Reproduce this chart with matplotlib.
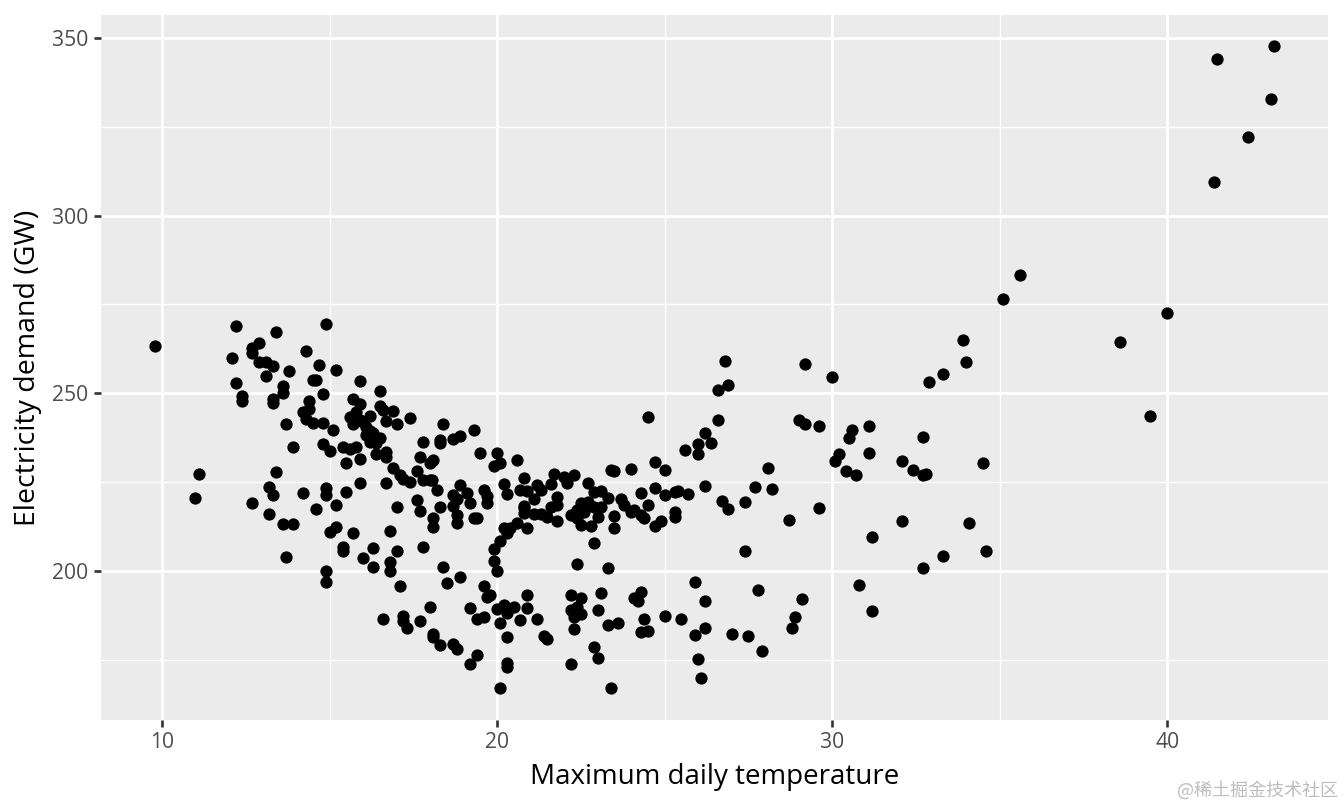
import matplotlib
matplotlib.use('Agg')
import matplotlib.pyplot as plt

# values, same order in both lists
temperature = [
    9.8, 12.2, 13.4, 14.9, 12.9, 12.7, 12.7, 12.1, 12.9, 13.1, 13.3, 13.1, 13.8, 14.3, 14.7, 15.2,
    14.5, 14.6, 12.2, 13.6, 13.6, 12.4, 12.4, 13.3, 13.3, 14.8, 14.4, 14.4, 14.2, 14.3, 14.5, 14.8,
    15.1, 13.7, 13.9, 14.8, 15.0, 15.4, 15.6, 15.8, 15.5, 15.9, 15.9, 16.5, 15.7, 15.9, 16.5, 16.6,
    16.9, 17.4, 15.6, 15.8, 15.8, 15.7, 16.0, 16.2, 15.9, 16.1, 16.2, 16.7, 17.0, 16.1, 16.3, 16.5,
    16.2, 16.4, 16.7, 16.4, 16.7, 17.8, 17.7, 18.0, 16.9, 17.1, 17.2, 17.4, 16.7, 17.6, 17.8, 18.0,
    15.9, 15.5, 14.9, 14.9, 14.2, 13.4, 13.2, 13.3, 11.1, 11.0, 17.6,
    12.7, 13.2, 13.6, 13.9, 13.7, 15.2, 14.6, 15.0, 15.2, 15.7, 15.4, 15.4, 14.9, 14.9, 16.3, 16.0,
    16.3, 16.8, 16.8, 17.0, 16.8, 17.0, 17.7, 18.3, 18.2, 17.8, 18.1, 18.1, 18.7, 18.9, 19.1, 18.8,
    18.7, 19.2, 18.8, 18.8, 19.3, 19.4, 19.6, 19.7, 19.7, 20.2, 20.3, 20.7, 20.8, 20.8,
    18.4, 18.9, 18.5, 17.1, 18.0, 17.2, 17.2, 17.7, 16.6, 17.3, 18.1, 18.1, 18.3, 18.7, 18.8, 19.2,
    19.4, 19.6, 19.6, 19.7, 19.8, 20.0, 20.2, 20.3, 20.5, 20.1, 20.7, 20.9, 20.9, 20.3, 19.4, 19.2,
    20.3, 20.3, 20.1, 19.9, 19.9, 20.0, 20.1, 20.2, 20.3, 20.6, 20.4, 20.9,
    18.4, 18.3, 18.3, 18.7, 18.9, 19.3, 18.1, 19.5, 20.0, 19.9, 20.1, 20.6, 18.05,
    20.8, 20.9, 21.2, 21.3, 21.1, 20.8, 21.1, 21.3, 21.5, 21.6, 21.8, 21.8, 21.8, 21.6, 21.7, 22.0,
    22.1, 22.3, 22.7, 22.9, 23.1, 23.3, 22.2, 22.4, 22.5, 22.7, 22.6, 22.4, 22.5, 22.8, 23.0, 23.1,
    22.9, 23.5, 23.5, 22.9, 23.7, 23.8, 24.0, 24.1, 24.3, 24.4, 24.3, 24.5, 24.7, 25.0, 25.3, 25.4,
    25.7, 25.3, 25.3, 24.9, 24.7, 26.2, 26.7, 26.9, 24.5, 23.4, 23.5, 24.0, 24.7, 25.0, 25.6, 26.0,
    26.0, 26.2, 26.4, 26.6,
    22.4, 23.3, 27.4, 25.9, 27.8, 26.2, 29.1, 28.9, 28.8, 21.2, 21.4, 21.5, 22.2, 22.5, 23.1, 22.2,
    22.4, 22.5, 22.3, 23.0, 22.3, 23.3, 23.6, 24.4, 24.3, 24.5, 24.1, 24.3, 24.2, 25.0, 25.5, 25.9,
    26.2, 26.0, 26.1, 27.0, 27.5, 27.9, 22.9, 23.0, 22.2, 23.4,
    41.5, 43.2, 43.1, 42.4, 41.4, 35.1, 35.6, 40.0, 38.6, 39.5, 33.9, 34.0, 33.3, 32.9, 29.2, 30.0,
    26.8, 26.9, 26.6, 29.0, 29.2, 29.6, 30.6, 30.5, 31.1, 31.1, 30.2, 30.1, 30.4, 30.7, 32.7, 32.1,
    32.4, 32.7, 32.8, 34.5, 29.6, 28.7, 28.1, 28.2, 27.7, 27.4, 31.2, 32.1, 34.1, 34.6, 33.3, 32.7,
    30.8, 31.2,
]
demand = [
    263.4, 269.0, 267.3, 269.5, 264.2, 262.6, 261.2, 259.8, 258.9, 258.9, 257.8, 254.9, 256.3, 261.8, 258.0, 256.6,
    253.6, 253.6, 253.0, 252.0, 250.2, 249.1, 247.8, 248.4, 247.3, 249.9, 247.9, 245.5, 244.8, 242.9, 241.7, 241.6,
    239.7, 241.3, 235.0, 235.8, 233.8, 234.9, 234.3, 234.9, 230.5, 231.4, 253.4, 250.6, 248.4, 246.9, 246.4, 245.3,
    245.1, 243.0, 243.4, 244.8, 243.4, 241.3, 242.0, 243.7, 242.5, 240.6, 239.5, 242.2, 241.4, 238.3, 238.8, 237.5,
    236.4, 235.9, 233.6, 232.9, 232.2, 236.4, 232.0, 230.5, 228.9, 227.0, 226.0, 225.0, 224.8, 228.0, 225.6, 225.5,
    224.8, 222.3, 223.4, 221.4, 221.9, 227.8, 223.7, 221.4, 227.2, 220.6, 220.0,
    219.0, 216.0, 213.1, 213.1, 203.9, 218.6, 217.4, 211.0, 212.4, 210.8, 206.8, 205.6, 200.0, 196.8, 206.4, 203.6,
    201.0, 202.6, 200.0, 205.7, 211.3, 217.9, 216.9, 218.0, 222.8, 206.8, 214.8, 212.5, 221.4, 224.2, 222.0, 220.4,
    218.3, 219.0, 215.7, 213.6, 215.0, 215.0, 222.8, 221.2, 219.0, 224.5, 221.7, 222.8, 217.7, 216.3,
    201.2, 198.2, 196.7, 195.8, 189.8, 187.3, 186.0, 186.0, 186.5, 184.0, 182.2, 181.5, 179.2, 179.6, 178.0, 189.5,
    186.4, 187.0, 195.9, 192.8, 193.4, 189.2, 190.4, 188.3, 189.8, 185.3, 186.2, 193.2, 189.6, 181.4, 176.4, 173.8,
    174.2, 172.9, 167.0, 206.1, 202.8, 200.1, 208.5, 212.0, 210.6, 213.4, 212.0, 212.0,
    241.4, 236.9, 236.0, 237.0, 238.0, 239.7, 231.2, 233.3, 233.3, 229.5, 230.3, 231.3, 225.6,
    226.2, 222.6, 224.2, 222.8, 220.2, 218.3, 216.1, 216.1, 215.3, 218.1, 220.7, 218.6, 214.0, 224.5, 227.2, 226.4,
    224.7, 227.0, 224.8, 222.3, 222.6, 220.6, 215.9, 217.2, 219.0, 219.5, 216.7, 214.8, 212.9, 212.8, 215.3, 217.9,
    218.1, 215.6, 212.1, 207.9, 220.2, 218.6, 216.7, 217.3, 215.7, 214.8, 222.0, 218.6, 223.3, 221.4, 222.1, 222.6,
    221.8, 216.7, 215.3, 214.1, 212.8, 224.0, 219.8, 217.5, 243.3, 228.4, 228.2, 228.6, 230.6, 228.5, 234.0, 235.7,
    232.8, 238.9, 236.1, 242.6,
    202.0, 200.8, 205.5, 197.0, 194.7, 191.5, 192.1, 187.1, 184.0, 186.4, 181.7, 181.0, 193.2, 192.3, 193.7, 189.0,
    190.0, 187.9, 187.0, 189.0, 183.6, 184.9, 185.4, 186.5, 182.8, 183.2, 192.3, 194.1, 191.7, 187.4, 186.6, 182.0,
    184.0, 175.2, 169.8, 182.4, 181.6, 177.5, 178.5, 175.5, 173.9, 167.0,
    344.0, 347.7, 332.8, 322.0, 309.4, 276.5, 283.3, 272.5, 264.4, 243.6, 265.0, 258.7, 255.4, 253.3, 258.3, 254.6,
    259.2, 252.2, 250.9, 242.5, 241.4, 240.7, 239.6, 237.5, 240.7, 233.2, 232.8, 231.0, 228.0, 227.0, 237.6, 231.0,
    228.4, 227.0, 227.2, 230.3, 217.7, 214.3, 229.0, 223.0, 223.6, 219.3, 209.5, 214.0, 213.4, 205.5, 204.2, 200.9,
    196.0, 188.8,
]

x_major = [10, 20, 30, 40]
x_minor = [15, 25, 35]
y_major = [200, 250, 300, 350]
y_minor = [175, 225, 275, 325]

plt.rcParams['font.family'] = ['Open Sans', 'DejaVu Sans']

W, H = 1344, 806
fig = plt.figure(figsize=(W / 100, H / 100), dpi=100, facecolor='white')
ax = fig.add_axes([101 / W, 1 - 720 / H, (1328 - 101) / W, (720 - 15) / H], facecolor='#EBEBEB')

ax.scatter(temperature, demand, s=78, c='black', linewidths=0, zorder=3)

ax.set_xlim(8.18, 44.8)
ax.set_ylim(158.1, 356.4)

ax.set_xticks(x_major)
ax.set_xticks(x_minor, minor=True)
ax.set_yticks(y_major)
ax.set_yticks(y_minor, minor=True)

# ggplot look: white grid, no frame
ax.grid(which='major', color='white', linewidth=2.0, zorder=1)
ax.grid(which='minor', color='white', linewidth=1.0, zorder=1)
ax.set_axisbelow(True)
for s in ax.spines.values():
    s.set_visible(False)

ax.tick_params(which='major', length=5, width=1.9, color='#333333',
               labelcolor='#4D4D4D', labelsize=15.2, pad=4)
ax.tick_params(which='minor', length=0)

ax.set_xlabel('Maximum daily temperature', fontsize=20, color='black', labelpad=7)
ax.set_ylabel('Electricity demand (GW)', fontsize=20.5, color='black', labelpad=7)

fig.text(1338 / W, 1 - 790 / H, '@稀土掘金技术社区', ha='right', va='center', fontsize=13,
         color='#BDBDBD', family=['Noto Sans CJK SC', 'DejaVu Sans'])

fig.savefig('out.png', dpi=100)
